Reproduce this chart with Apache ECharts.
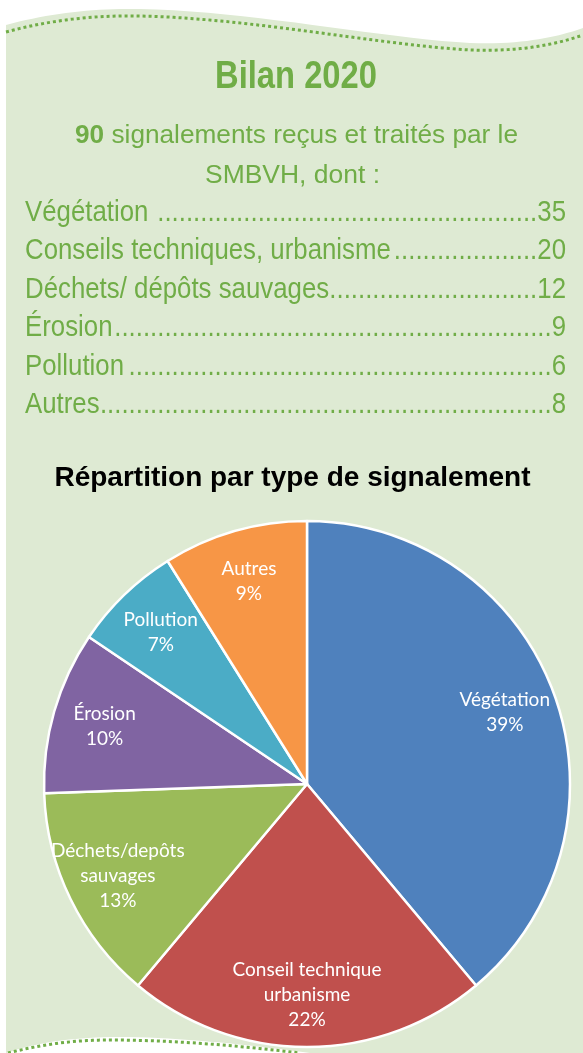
<!DOCTYPE html>
<html>
<head>
<meta charset="utf-8">
<title>Bilan 2020</title>
<script src="https://cdn.jsdelivr.net/npm/echarts@6/dist/echarts.min.js"></script>
</head>
<body style="margin:0;background:#fff">
<div id="main" style="width:583px;height:1053px"></div>
<script>
// pie slices, clockwise from 12 o'clock
const sliceNames = ['Végétation', 'Conseil technique\nurbanisme', 'Déchets/depôts\nsauvages', 'Érosion', 'Pollution', 'Autres'];
const sliceValues = [35, 20, 12, 9, 6, 8];
const sliceColors = ['#4f81bd', '#c0504d', '#9bbb59', '#8064a2', '#4bacc6', '#f79646'];

// text list above the chart
const listLabels = ['Végétation ', 'Conseils techniques, urbanisme', 'Déchets/ dépôts sauvages', 'Érosion', 'Pollution', 'Autres'];
const listValues = [35, 20, 12, 9, 6, 8];

const total = listValues.reduce((a, b) => a + b, 0);
const green = '#70ad47';
const sans = '"Liberation Sans", Arial, sans-serif';

const ctx = document.createElement('canvas').getContext('2d');
function textW(str, size, bold) {
  ctx.font = (bold ? 'bold ' : '') + size + 'px ' + sans;
  return ctx.measureText(str).width;
}

// sample a chain of cubic curves into points (for the wavy edges)
function curve(start, segs) {
  const pts = [start];
  let p0 = start;
  segs.forEach(s => {
    const [c1, c2, p3] = s;
    for (let k = 1; k <= 20; k++) {
      const t = k / 20, u = 1 - t;
      pts.push([
        u * u * u * p0[0] + 3 * u * u * t * c1[0] + 3 * u * t * t * c2[0] + t * t * t * p3[0],
        u * u * u * p0[1] + 3 * u * u * t * c1[1] + 3 * u * t * t * c2[1] + t * t * t * p3[1]
      ]);
    }
    p0 = p3;
  });
  return pts;
}
const topEdge = curve([6, 25], [[[50, 13], [95, 8], [140, 9]], [[250, 11], [380, 38], [470, 43]], [[525, 45], [560, 36], [583, 28]]]);
const bottomEdge = curve([310, 1053], [[[250, 1045], [170, 1036], [110, 1037]], [[60, 1038], [25, 1046], [6, 1053]]]);
const topDots = topEdge.map(p => [p[0], p[1] + 7]);
const bottomDots = curve([8, 1053], [[[40, 1045], [70, 1040], [110, 1040]], [[180, 1040], [250, 1047], [300, 1053]]]);

// list rows: label ....... value, in a condensed face
const rowSize = 29, rowSx = 0.89;
const rowLeft = 25, rowRight = 566, rowTop = 213, rowStep = 38.4;
const rows = [];
listLabels.forEach((lab, i) => {
  const y = rowTop + i * rowStep;
  const num = String(listValues[i]);
  const labW = textW(lab, rowSize) * rowSx;
  const numW = textW(num, rowSize) * rowSx;
  const dotW = textW('.', rowSize) * rowSx;
  const n = Math.max(0, Math.floor((rowRight - numW - rowLeft - labW) / dotW));
  const common = { fontSize: rowSize, fontFamily: sans, fill: green, verticalAlign: 'middle' };
  rows.push({ type: 'text', x: rowLeft, y: y, scaleX: rowSx, style: Object.assign({ text: lab, align: 'left' }, common) });
  rows.push({ type: 'text', x: rowRight - numW, y: y, scaleX: rowSx, style: Object.assign({ text: '.'.repeat(n), align: 'right' }, common) });
  rows.push({ type: 'text', x: rowRight, y: y, scaleX: rowSx, style: Object.assign({ text: num, align: 'right' }, common) });
});

// condense headline texts to the widths they take in the layout
const titleSx = 162 / textW('Bilan 2020', 38, true);
const introRest = ' signalements reçus et traités par le';
const introSx = 443 / (textW(String(total), 25, true) + textW(introRest, 25));
const subSx = 175 / textW('SMBVH, dont :', 25);

const chart = echarts.init(document.getElementById('main'));
const pieData = sliceNames.map((name, i) => ({ name: name, value: sliceValues[i] }));

chart.setOption({
  backgroundColor: '#ffffff',
  animation: false,
  graphic: [
    {
      type: 'polygon', z: -10,
      shape: { points: topEdge.concat([[583, 1053]], bottomEdge) },
      style: { fill: '#deead3' }
    },
    {
      type: 'polyline', z: -9,
      shape: { points: topDots },
      style: { fill: null, stroke: green, lineWidth: 3, lineDash: [3, 3] }
    },
    {
      type: 'polyline', z: -9,
      shape: { points: bottomDots },
      style: { fill: null, stroke: green, lineWidth: 3, lineDash: [3, 3] }
    },
    {
      type: 'text', x: 296, y: 78, scaleX: titleSx,
      style: { text: 'Bilan 2020', align: 'center', verticalAlign: 'middle', fontSize: 38, fontWeight: 'bold', fontFamily: sans, fill: green }
    },
    {
      type: 'text', x: 296.5, y: 136, scaleX: introSx,
      style: {
        text: '{b|' + total + '}{r|' + introRest + '}',
        align: 'center', verticalAlign: 'middle',
        rich: {
          b: { fontSize: 25, fontWeight: 'bold', fontFamily: sans, fill: green },
          r: { fontSize: 25, fontFamily: sans, fill: green }
        }
      }
    },
    {
      type: 'text', x: 292.5, y: 176, scaleX: subSx,
      style: { text: 'SMBVH, dont :', align: 'center', verticalAlign: 'middle', fontSize: 25, fontFamily: sans, fill: green }
    },
    {
      type: 'text', x: 292.5, y: 478,
      style: { text: 'Répartition par type de signalement', align: 'center', verticalAlign: 'middle', fontSize: 28, fontWeight: 'bold', fontFamily: sans, fill: '#000' }
    }
  ].concat(rows),
  series: [
    {
      type: 'pie',
      center: [307, 784],
      radius: [0, 263],
      startAngle: 90,
      clockwise: true,
      silent: true,
      label: { show: false },
      labelLine: { show: false },
      itemStyle: { borderColor: '#fff', borderWidth: 2.5 },
      color: sliceColors,
      data: pieData
    },
    {
      type: 'pie',
      center: [307, 784],
      radius: [152, 263],
      startAngle: 90,
      clockwise: true,
      silent: true,
      itemStyle: { color: 'transparent' },
      labelLine: { show: false },
      label: {
        show: true,
        position: 'inside',
        formatter: '{b}\n{d}%',
        color: '#fff',
        fontSize: 19,
        lineHeight: 25,
        fontFamily: 'Lato, sans-serif'
      },
      percentPrecision: 0,
      data: pieData
    }
  ]
});
</script>
</body>
</html>
